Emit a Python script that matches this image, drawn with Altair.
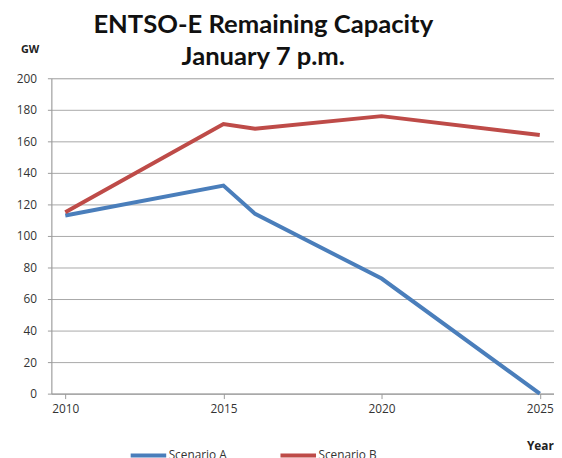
import altair as alt
import pandas as pd

years = [2010, 2015, 2016, 2020, 2025]
scenario_a = [113, 132, 114, 73, 0]
scenario_b = [115, 171, 168, 176, 164]
series_names = ["Scenario A", "Scenario B"]
colors = ["#4A7EBB", "#BE4B48"]
x_ticks = [2010, 2015, 2020, 2025]
y_ticks = list(range(0, 201, 20))

rows = []
for y, a, b in zip(years, scenario_a, scenario_b):
    rows.append({"year": y, "value": a, "series": series_names[0]})
    rows.append({"year": y, "value": b, "series": series_names[1]})
df = pd.DataFrame(rows)

chart = alt.Chart(df).mark_line(strokeWidth=4).encode(
    x=alt.X("year:Q",
            scale=alt.Scale(domain=[2009.56, 2025.45], nice=False, zero=False),
            axis=alt.Axis(values=x_ticks, format="d", grid=False,
                          domainColor="#9a9a9a", tickColor="#9a9a9a", tickSize=5,
                          labelFont="Open Sans", labelFontSize=12, labelColor="#333333",
                          labelPadding=5, labelFlush=False,
                          title="Year", titleFont="Open Sans", titleFontSize=12,
                          titleFontWeight="bold", titleColor="#222222",
                          titleAlign="left", titleBaseline="middle",
                          titleX=482, titleY=53, titleAngle=0)),
    y=alt.Y("value:Q",
            scale=alt.Scale(domain=[0, 200], nice=False),
            axis=alt.Axis(values=y_ticks, grid=True, gridColor="#a8a8a8", gridWidth=1,
                          domainColor="#9a9a9a", tickColor="#9a9a9a", tickSize=4,
                          labelFont="Open Sans", labelFontSize=12, labelColor="#333333",
                          labelPadding=11,
                          title="GW", titleFont="Open Sans", titleFontSize=11,
                          titleFontWeight="bold", titleColor="#222222",
                          titleAngle=0, titleAlign="center", titleBaseline="middle",
                          titleX=-22, titleY=-29)),
    color=alt.Color("series:N",
                    scale=alt.Scale(domain=series_names, range=colors),
                    legend=alt.Legend(orient="none", legendX=78, legendY=362,
                                      direction="horizontal", title=None,
                                      symbolType="stroke", symbolStrokeWidth=4,
                                      symbolSize=1300, columnPadding=46,
                                      labelFont="Open Sans", labelFontSize=12,
                                      labelColor="#333333", labelOffset=0)),
).properties(
    width=510,
    height=320,
    title=alt.TitleParams(
        text=["ENTSO-E Remaining Capacity", "January 7 p.m."],
        font="Lato", fontSize=26, fontWeight="bold", color="#111111",
        anchor="middle", dx=-40, dy=35, offset=8, lineHeight=33,
    ),
    padding={"left": 44, "top": 68, "right": 0, "bottom": 62},
    autosize=alt.AutoSizeParams(type="none"),
).configure_view(stroke=None).configure(background="white")

chart.save("out.html", embed_options={"renderer": "svg", "actions": False})
